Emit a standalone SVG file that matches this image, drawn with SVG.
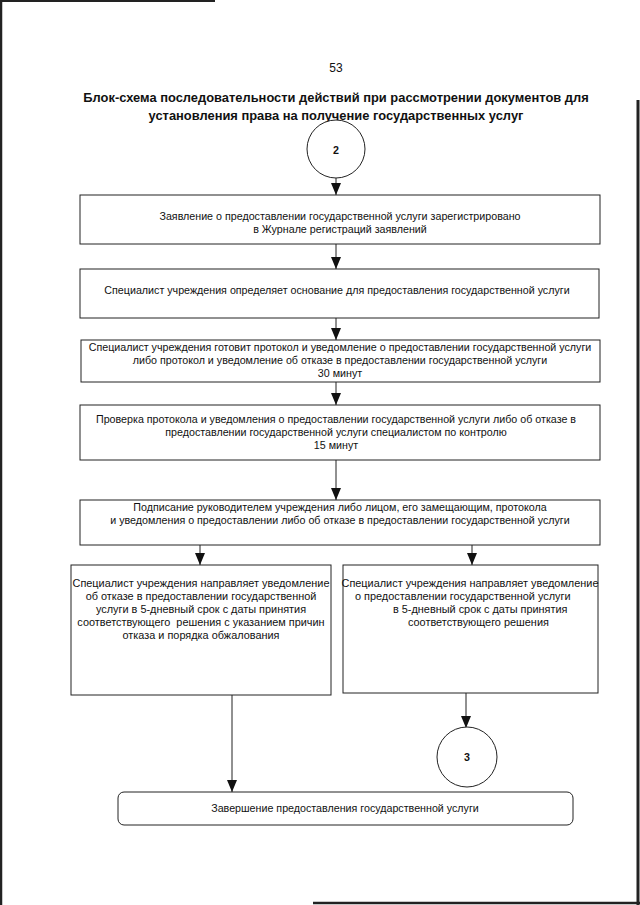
<svg xmlns="http://www.w3.org/2000/svg" width="640" height="905" viewBox="0 0 640 905">
<style>
.box{fill:#fff;stroke:#222;stroke-width:1}
.t{font-family:"Liberation Sans",Arial,sans-serif;font-size:10.7px;fill:#111}
.s{font-size:10.9px}
.c{text-anchor:middle}
.ttl{font-family:"Liberation Sans",Arial,sans-serif;font-size:12.9px;font-weight:bold;fill:#111;text-anchor:middle}
.ln{stroke:#222;stroke-width:1;fill:none}
.edge{stroke:#222;fill:none}
</style>
<defs>
<marker id="ah" markerWidth="12" markerHeight="10" refX="12" refY="5" orient="auto" markerUnits="userSpaceOnUse" viewBox="0 0 12 10">
<path d="M0,0 L12,5 L0,10 Z" fill="#111"/>
</marker>
</defs>
<rect width="640" height="905" fill="#fff"/>
<g id="scan-edges">
<line class="edge" x1="0" y1="1" x2="215" y2="1" stroke-width="2"/>
<line class="edge" x1="1" y1="0" x2="1" y2="905" stroke-width="2.5"/>
<line class="edge" x1="638" y1="100" x2="638" y2="905" stroke-width="3"/>
<line class="edge" x1="313" y1="903" x2="640" y2="903" stroke-width="2.5"/>
</g>
<text class="t c" x="336" y="72" style="font-size:12px">53</text>
<text class="ttl" x="336" y="102">Блок-схема последовательности действий при рассмотрении документов для</text>
<text class="ttl" x="336" y="120">установления права на получение государственных услуг</text>
<g id="connectors">
<line class="ln" x1="336" y1="178" x2="336" y2="195" marker-end="url(#ah)"/>
<line class="ln" x1="336" y1="244" x2="336" y2="269" marker-end="url(#ah)"/>
<line class="ln" x1="336" y1="318" x2="336" y2="340" marker-end="url(#ah)"/>
<line class="ln" x1="336" y1="382" x2="336" y2="405" marker-end="url(#ah)"/>
<line class="ln" x1="336" y1="460" x2="336" y2="500" marker-end="url(#ah)"/>
<line class="ln" x1="200" y1="545" x2="200" y2="565" marker-end="url(#ah)"/>
<line class="ln" x1="472" y1="545" x2="472" y2="565" marker-end="url(#ah)"/>
<line class="ln" x1="466" y1="693" x2="466" y2="728" marker-end="url(#ah)"/>
<line class="ln" x1="232" y1="695" x2="232" y2="792" marker-end="url(#ah)"/>
</g>
<g id="n-start">
<circle class="box" cx="336" cy="149" r="29"/>
<text class="t c" x="336" y="154" style="font-weight:bold">2</text>
</g>
<g id="n1">
<rect class="box" x="80" y="195" width="520" height="49"/>
<text class="t c" x="340" y="220">Заявление о предоставлении государственной услуги зарегистрировано</text>
<text class="t c" x="340" y="233">в Журнале регистраций заявлений</text>
</g>
<g id="n2">
<rect class="box" x="80" y="269" width="519" height="49"/>
<text class="t c" x="337" y="294">Специалист учреждения определяет основание для предоставления государственной услуги</text>
</g>
<g id="n3">
<rect class="box" x="81" y="340" width="519" height="42"/>
<text class="t c" x="340" y="351">Специалист учреждения готовит протокол и уведомление о предоставлении государственной услуги</text>
<text class="t c" x="340" y="364">либо протокол и уведомление об отказе в предоставлении государственной услуги</text>
<text class="t c" x="340" y="377">30 минут</text>
</g>
<g id="n4">
<rect class="box" x="80" y="405" width="520" height="55"/>
<text class="t c" x="336" y="423">Проверка протокола и уведомления о предоставлении государственной услуги либо об отказе в</text>
<text class="t c" x="336" y="436">предоставлении государственной услуги специалистом по контролю</text>
<text class="t c" x="336" y="449">15 минут</text>
</g>
<g id="n5">
<rect class="box" x="80" y="500" width="520" height="45"/>
<text class="t c" x="340" y="511">Подписание руководителем учреждения либо лицом, его замещающим, протокола</text>
<text class="t c" x="340" y="524">и уведомления о предоставлении либо об отказе в предоставлении государственной услуги</text>
</g>
<g id="n-refuse">
<rect class="box" x="71" y="565" width="260" height="130"/>
<text class="t s c" x="201" y="587">Специалист учреждения направляет уведомление</text>
<text class="t s c" x="201" y="600">об отказе в предоставлении государственной</text>
<text class="t s c" x="201" y="613">услуги в 5-дневный срок с даты принятия</text>
<text class="t s c" x="201" y="626" xml:space="preserve">соответствующего  решения с указанием причин</text>
<text class="t s c" x="201" y="639">отказа и порядка обжалования</text>
</g>
<g id="n-grant">
<rect class="box" x="343" y="565" width="255" height="128"/>
<text class="t s c" x="470" y="587">Специалист учреждения направляет уведомление</text>
<text class="t s" x="355" y="600">о предоставлении государственной услуги</text>
<text class="t s" x="393" y="613">в 5-дневный срок с даты принятия</text>
<text class="t s" x="408" y="626">соответствующего решения</text>
</g>
<g id="n-end3">
<circle class="box" cx="467" cy="757" r="30"/>
<text class="t c" x="467" y="761" style="font-weight:bold">3</text>
</g>
<g id="n-finish">
<rect class="box" x="118" y="792" width="455" height="33" rx="6"/>
<text class="t c" x="345" y="812">Завершение предоставления государственной услуги</text>
</g>
</svg>
